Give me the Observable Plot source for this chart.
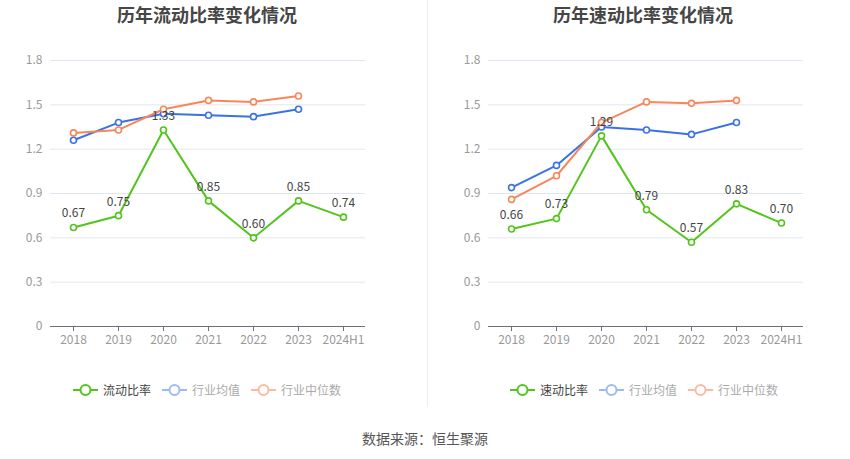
<!DOCTYPE html>
<html>
<head>
<meta charset="utf-8">
<script src="https://cdn.jsdelivr.net/npm/d3@7"></script>
<script src="https://cdn.jsdelivr.net/npm/@observablehq/plot@0.6"></script>
<style>
  html, body { margin: 0; padding: 0; background: #fff; }
  #root { position: relative; width: 850px; height: 459px; overflow: hidden; font-family: "Noto Sans CJK SC", "Noto Sans", sans-serif; }
  .title { position: absolute; top: 2px; width: 300px; text-align: center; font-size: 18px; font-weight: bold; color: #464646; line-height: 24px; }
  .chart { position: absolute; top: 0; }
  .legend { position: absolute; top: 382px; display: flex; align-items: center; font-size: 12px; line-height: 16px; }
  .item { display: flex; align-items: center; margin-right: 11px; }
  .item svg { margin-right: 5px; }
  .divider { position: absolute; left: 427px; top: 0; width: 1px; height: 407px; background: #eeeeee; }
  .source { position: absolute; top: 428px; left: 0; width: 850px; text-align: center; font-size: 14px; color: #555; line-height: 20px; }
</style>
</head>
<body>
<div id="root"></div>
<script>
const years = ["2018", "2019", "2020", "2021", "2022", "2023", "2024H1"];
const yTicks = [0, 0.3, 0.6, 0.9, 1.2, 1.5, 1.8];

const currentRatio = [0.67, 0.75, 1.33, 0.85, 0.60, 0.85, 0.74];
const currentMean = [1.26, 1.38, 1.44, 1.43, 1.42, 1.47];
const currentMedian = [1.31, 1.33, 1.47, 1.53, 1.52, 1.56];

const quickRatio = [0.66, 0.73, 1.29, 0.79, 0.57, 0.83, 0.70];
const quickMean = [0.94, 1.09, 1.35, 1.33, 1.30, 1.38];
const quickMedian = [0.86, 1.02, 1.38, 1.52, 1.51, 1.53];

const titles = ["历年流动比率变化情况", "历年速动比率变化情况"];
const legendLeft = ["流动比率", "行业均值", "行业中位数"];
const legendRight = ["速动比率", "行业均值", "行业中位数"];
const sourceText = "数据来源：恒生聚源";

const GREEN = "#52c41a", BLUE = "#3a72e3", ORANGE = "#f7865a";
const FONT = '"Noto Sans CJK SC", "Noto Sans", sans-serif';

function rows(vals) { return vals.map((v, i) => ({year: years[i], v})); }

function chart(main, mean, median) {
  const m = rows(main), a = rows(mean), d = rows(median);
  const series = (data, color) => [
    Plot.line(data, {x: "year", y: "v", stroke: color, strokeWidth: 2}),
    Plot.dot(data, {x: "year", y: "v", r: 3, fill: "white", stroke: color, strokeWidth: 1.6})
  ];
  return Plot.plot({
    width: 400, height: 360,
    marginLeft: 50, marginRight: 35, marginTop: 60, marginBottom: 34,
    style: {fontFamily: FONT, fontSize: "12px", background: "transparent", overflow: "visible"},
    x: {type: "point", domain: years, padding: 0.5},
    y: {domain: [0, 1.8]},
    marks: [
      Plot.gridY(yTicks, {stroke: "#e0e6f1", strokeOpacity: 1}),
      Plot.axisY(yTicks, {tickSize: 0, tickPadding: 8, tickFormat: t => t === 0 ? "0" : t.toFixed(1), fill: "#999", label: null}),
      Plot.ruleY([0], {stroke: "#6e7079"}),
      Plot.axisX({tickSize: 5, tickPadding: 4, stroke: "#6e7079", fill: "#999", label: null}),
      ...series(a, BLUE),
      ...series(d, ORANGE),
      ...series(m, GREEN),
      Plot.text(m, {x: "year", y: "v", text: r => r.v.toFixed(2), dy: -14, fill: "#444", fontSize: 12})
    ]
  });
}

function legend(labels, left) {
  const el = document.createElement("div");
  el.className = "legend";
  el.style.left = left + "px";
  const icon = ["#52c41a", "#9dbbf3", "#fbbba3"];
  const txt = ["#444", "#aaa", "#aaa"];
  labels.forEach((lab, i) => {
    const it = document.createElement("div");
    it.className = "item";
    it.innerHTML = `<svg width="25" height="14"><line x1="0" y1="7" x2="25" y2="7" stroke="${icon[i]}" stroke-width="2"/><circle cx="12.5" cy="7" r="5" fill="white" stroke="${icon[i]}" stroke-width="2"/></svg>`;
    const s = document.createElement("span");
    s.textContent = lab;
    s.style.color = txt[i];
    it.appendChild(s);
    el.appendChild(it);
  });
  return el;
}

const root = document.getElementById("root");
const offsets = [0, 438];
const data = [[currentRatio, currentMean, currentMedian], [quickRatio, quickMean, quickMedian]];
const legends = [legendLeft, legendRight];

offsets.forEach((off, k) => {
  const t = document.createElement("div");
  t.className = "title";
  t.textContent = titles[k];
  t.style.left = (off + 207 - 150 - (k ? 2 : 0)) + "px";
  root.appendChild(t);

  const c = document.createElement("div");
  c.className = "chart";
  c.style.left = off + "px";
  c.appendChild(chart(...data[k]));
  root.appendChild(c);

  root.appendChild(legend(legends[k], 73 + off - (k ? 1 : 0)));
});

const dv = document.createElement("div");
dv.className = "divider";
root.appendChild(dv);

const src = document.createElement("div");
src.className = "source";
src.textContent = sourceText;
root.appendChild(src);
</script>
</body>
</html>
